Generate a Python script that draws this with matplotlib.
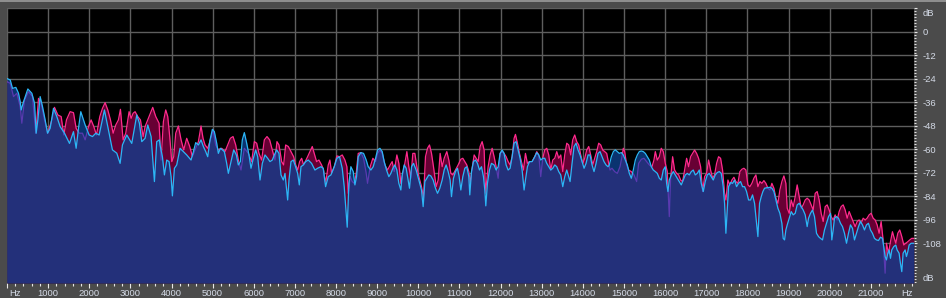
import numpy as np
import matplotlib
matplotlib.use("Agg")
import matplotlib.pyplot as plt
from matplotlib.ticker import MultipleLocator
from matplotlib.patches import Rectangle

plt.rcParams['font.family'] = ['Liberation Sans', 'DejaVu Sans']

# right channel (blue) spectrum, Hz / dB
blue_hz = [0, 78, 134, 215, 280, 321, 345, 402, 507, 604, 669, 709, 750, 806, 863, 928, 985,
           1049, 1130, 1211, 1292, 1398, 1519, 1616, 1681, 1738, 1794, 1900, 1997, 2078, 2159,
           2240, 2369, 2466, 2563, 2669, 2750, 2806, 2912, 3033, 3155, 3219, 3276, 3357, 3422,
           3503, 3584, 3640, 3705, 3721, 3778, 3827, 3883, 3940, 3989, 4021, 4070, 4126, 4207,
           4288, 4369, 4474, 4531, 4588, 4653, 4717, 4774, 4831, 4879, 4936, 4993, 5041, 5098,
           5138, 5187, 5236, 5284, 5341, 5381, 5446, 5511, 5576, 5624, 5673, 5721, 5770, 5827,
           5883, 5932, 5989, 6045, 6094, 6151, 6207, 6272, 6337, 6393, 6450, 6499, 6555, 6612,
           6661, 6717, 6758, 6798, 6823, 6855, 6904, 6960, 7001, 7066, 7106, 7147, 7203, 7260,
           7324, 7405, 7486, 7551, 7632, 7688, 7745, 7810, 7875, 7956, 8020, 8085, 8150, 8198,
           8247, 8271, 8312, 8360, 8417, 8458, 8498, 8539, 8603, 8668, 8733, 8781, 8846, 8903,
           8960, 9008, 9065, 9122, 9170, 9227, 9283, 9332, 9381, 9429, 9478, 9526, 9575, 9607,
           9656, 9704, 9753, 9785, 9834, 9883, 9947, 10012, 10077, 10117, 10158, 10206, 10255,
           10304, 10360, 10417, 10466, 10522, 10579, 10628, 10676, 10725, 10773, 10806, 10854,
           10903, 10951, 10990, 11033, 11081, 11130, 11178, 11227, 11251, 11292, 11340, 11389,
           11438, 11486, 11535, 11583, 11616, 11640, 11680, 11729, 11778, 11842, 11891, 11940,
           11988, 12037, 12085, 12134, 12183, 12231, 12280, 12328, 12377, 12425, 12474, 12523,
           12571, 12604, 12652, 12701, 12765, 12830, 12879, 12927, 12976, 13025, 13073, 13122,
           13170, 13219, 13268, 13316, 13365, 13413, 13462, 13511, 13559, 13608, 13656, 13689,
           13737, 13786, 13834, 13883, 13931, 13980, 14029, 14077, 14126, 14174, 14223, 14271,
           14320, 14369, 14417, 14466, 14514, 14563, 14612, 14643, 14692, 14741, 14789, 14838,
           14886, 14935, 14983, 15032, 15081, 15129, 15178, 15226, 15275, 15324, 15372, 15421,
           15469, 15518, 15566, 15615, 15664, 15712, 15761, 15809, 15858, 15906, 15955, 16004,
           16036, 16068, 16101, 16149, 16198, 16247, 16295, 16344, 16392, 16441, 16490, 16538,
           16587, 16635, 16684, 16732, 16781, 16830, 16878, 16927, 16975, 17024, 17072, 17121,
           17170, 17218, 17267, 17315, 17364, 17412, 17445, 17477, 17510, 17542, 17591, 17639,
           17688, 17736, 17785, 17834, 17882, 17931, 17979, 18028, 18076, 18125, 18174, 18214,
           18255, 18295, 18336, 18376, 18417, 18482, 18546, 18595, 18644, 18692, 18741, 18789,
           18838, 18870, 18903, 18935, 18968, 19016, 19065, 19113, 19162, 19210, 19259, 19308,
           19356, 19405, 19453, 19486, 19534, 19583, 19631, 19680, 19729, 19777, 19826, 19874,
           19923, 19972, 20020, 20052, 20085, 20117, 20166, 20214, 20263, 20312, 20360, 20409,
           20457, 20506, 20555, 20603, 20652, 20700, 20749, 20797, 20846, 20895, 20943, 20992,
           21040, 21089, 21137, 21186, 21235, 21283, 21316, 21348, 21380, 21413, 21445, 21478,
           21510, 21558, 21607, 21639, 21688, 21720, 21753, 21785, 21834, 21866, 21899, 21931,
           21980, 22044]
blue_db = [-23.8, -24.5, -28.8, -28.3, -31.3, -35.6, -39.8, -35.6, -29.1, -31.3, -36.4, -51.7,
           -44.9, -33.0, -38.1, -44.9, -51.7, -49.2, -39.0, -43.2, -48.3, -51.7, -56.9, -50.9,
           -59.4, -49.2, -40.7, -47.5, -52.6, -53.4, -51.7, -52.6, -39.8, -50.0, -60.2, -61.9,
           -67.1, -57.7, -52.6, -56.9, -42.4, -46.6, -56.0, -54.3, -47.5, -53.4, -76.4, -56.0,
           -55.1, -57.7, -63.7, -73.0, -65.4, -66.2, -73.9, -83.7, -69.6, -67.9, -59.4, -61.1,
           -62.8, -65.4, -61.1, -56.5, -57.7, -55.1, -58.5, -61.1, -63.7, -55.1, -49.7, -50.9,
           -56.8, -62.0, -59.4, -60.2, -61.1, -67.1, -72.2, -66.2, -60.2, -62.8, -67.9, -66.2,
           -55.1, -51.4, -56.8, -62.8, -69.6, -64.5, -60.2, -63.7, -75.6, -67.1, -62.8, -64.5,
           -66.2, -65.4, -62.8, -60.2, -62.0, -73.0, -75.6, -72.2, -80.7, -85.8, -75.6, -66.2,
           -65.4, -67.9, -72.2, -78.1, -68.8, -67.9, -66.2, -65.4, -67.1, -70.5, -69.6, -68.8,
           -69.6, -79.0, -73.9, -73.0, -68.8, -64.5, -63.7, -69.6, -79.0, -92.6, -99.7, -77.3,
           -68.8, -71.3, -78.1, -73.9, -63.7, -61.6, -62.0, -65.4, -68.8, -70.5, -68.8, -64.5,
           -60.3, -59.4, -61.1, -66.2, -70.5, -73.9, -72.2, -69.6, -67.9, -70.5, -77.3, -80.7,
           -73.0, -67.9, -69.6, -75.6, -79.8, -68.8, -67.1, -70.5, -75.6, -80.7, -89.2, -76.4,
           -74.7, -73.0, -73.5, -75.6, -79.8, -82.4, -79.8, -75.6, -70.5, -67.9, -71.3, -75.6,
           -84.1, -74.7, -71.3, -69.6, -73.5, -80.7, -73.9, -69.6, -68.8, -73.9, -83.2, -71.3,
           -66.2, -65.4, -67.1, -70.5, -68.8, -73.9, -80.7, -88.8, -77.3, -70.5, -67.1, -67.9,
           -70.5, -68.8, -62.0, -60.3, -62.0, -67.9, -70.5, -69.6, -63.7, -56.8, -56.0, -60.3,
           -64.5, -70.5, -80.7, -75.6, -68.8, -66.2, -66.2, -63.7, -61.6, -62.8, -65.4, -64.5,
           -64.5, -67.1, -68.8, -70.5, -69.6, -67.9, -68.8, -71.3, -73.0, -79.0, -73.9, -70.5,
           -73.9, -76.4, -67.1, -58.5, -56.8, -60.3, -62.8, -66.2, -69.6, -67.1, -62.8, -62.8,
           -67.9, -71.3, -67.1, -62.0, -61.1, -63.7, -66.2, -67.9, -68.8, -67.9, -63.7, -61.1,
           -60.2, -61.1, -62.0, -61.6, -62.8, -65.4, -67.9, -72.2, -74.7, -70.5, -65.4, -62.8,
           -61.1, -60.8, -61.1, -62.0, -63.7, -65.4, -68.8, -70.5, -71.3, -72.2, -74.7, -75.6,
           -70.5, -68.8, -77.3, -81.5, -75.6, -73.0, -71.3, -73.0, -74.7, -76.4, -78.1, -75.6,
           -73.0, -72.2, -73.0, -71.3, -70.5, -73.0, -72.2, -70.5, -77.3, -81.5, -76.4, -73.0,
           -72.2, -73.9, -75.6, -73.0, -71.8, -71.3, -72.2, -79.0, -87.5, -102.8, -90.9, -79.0,
           -76.9, -77.3, -75.6, -79.0, -77.3, -76.4, -79.0, -79.0, -81.5, -85.8, -85.8, -83.2,
           -87.5, -96.0, -104.5, -87.5, -84.1, -81.5, -79.8, -79.5, -79.3, -79.8, -81.5, -85.8,
           -90.0, -92.6, -97.7, -105.4, -106.2, -101.1, -98.5, -95.1, -91.7, -93.4, -92.6, -88.3,
           -87.5, -89.2, -90.9, -93.4, -99.4, -95.1, -92.6, -90.9, -94.3, -102.8, -104.5, -105.4,
           -106.2, -101.1, -97.7, -94.3, -92.6, -106.2, -101.1, -95.1, -94.3, -95.1, -97.7, -99.4,
           -102.8, -107.9, -102.8, -98.5, -100.3, -106.2, -102.8, -99.4, -96.8, -98.5, -101.1,
           -98.5, -97.7, -101.1, -102.8, -105.4, -106.2, -106.5, -104.8, -105.4, -109.6, -114.7,
           -116.4, -113.0, -111.3, -115.6, -111.3, -109.6, -108.8, -111.3, -113.0, -118.1, -122.4,
           -113.0, -111.3, -114.7, -112.2, -108.8, -107.9, -107.9]

# left channel (magenta) spectrum, Hz / dB
mag_hz = [0, 78, 159, 240, 321, 361, 426, 523, 620, 701, 766, 831, 912, 993, 1090, 1155, 1236,
          1317, 1381, 1446, 1535, 1616, 1681, 1754, 1835, 1900, 1981, 2045, 2110, 2175, 2256,
          2321, 2385, 2450, 2515, 2580, 2644, 2709, 2758, 2823, 2887, 2968, 3017, 3066, 3114,
          3179, 3244, 3309, 3357, 3422, 3487, 3543, 3616, 3697, 3746, 3802, 3859, 3908, 3956,
          4005, 4053, 4102, 4167, 4232, 4296, 4369, 4442, 4507, 4572, 4653, 4717, 4766, 4815,
          4879, 4944, 5009, 5074, 5138, 5219, 5300, 5365, 5430, 5495, 5560, 5624, 5689, 5770,
          5867, 5948, 6013, 6070, 6126, 6191, 6256, 6321, 6385, 6450, 6515, 6563, 6612, 6677,
          6725, 6774, 6839, 6904, 6968, 7017, 7066, 7114, 7163, 7211, 7308, 7364, 7421, 7470,
          7526, 7583, 7648, 7696, 7745, 7810, 7850, 7891, 7956, 8020, 8085, 8150, 8215, 8263,
          8296, 8344, 8393, 8441, 8490, 8539, 8603, 8668, 8733, 8765, 8830, 8895, 8960, 9008,
          9065, 9122, 9186, 9251, 9316, 9364, 9413, 9478, 9526, 9575, 9623, 9672, 9721, 9769,
          9818, 9866, 9915, 9964, 10012, 10077, 10125, 10174, 10223, 10271, 10320, 10368, 10433,
          10482, 10530, 10579, 10628, 10692, 10741, 10790, 10838, 10903, 10968, 11033, 11081,
          11130, 11178, 11227, 11259, 11308, 11357, 11405, 11454, 11502, 11551, 11600, 11632,
          11664, 11697, 11745, 11794, 11842, 11891, 11940, 11988, 12037, 12085, 12134, 12183,
          12231, 12280, 12328, 12361, 12409, 12458, 12506, 12555, 12604, 12652, 12701, 12765,
          12830, 12879, 12927, 12976, 13025, 13073, 13122, 13170, 13219, 13268, 13316, 13365,
          13413, 13462, 13511, 13559, 13608, 13656, 13705, 13753, 13802, 13850, 13899, 13948,
          13996, 14045, 14093, 14142, 14190, 14239, 14288, 14336, 14385, 14434, 14482, 14531,
          14579, 14660, 14708, 14773, 14838, 14903, 14951, 14983, 15016, 15064, 15113, 15178,
          15243, 15307, 15356, 15421, 15485, 15550, 15615, 15680, 15728, 15761, 15809, 15858,
          15906, 15955, 16004, 16052, 16101, 16133, 16182, 16230, 16279, 16328, 16376, 16425,
          16473, 16522, 16570, 16619, 16668, 16716, 16765, 16813, 16862, 16911, 16959, 17008,
          17056, 17105, 17153, 17202, 17251, 17299, 17348, 17396, 17445, 17477, 17526, 17574,
          17623, 17672, 17720, 17769, 17817, 17866, 17915, 17963, 18012, 18060, 18109, 18157,
          18206, 18255, 18304, 18352, 18401, 18449, 18498, 18546, 18595, 18644, 18692, 18741,
          18789, 18838, 18887, 18935, 18968, 19016, 19065, 19113, 19162, 19210, 19259, 19308,
          19356, 19405, 19453, 19502, 19550, 19599, 19648, 19696, 19745, 19793, 19842, 19891,
          19939, 19988, 20036, 20085, 20133, 20182, 20231, 20279, 20328, 20376, 20425, 20474,
          20522, 20571, 20619, 20668, 20716, 20765, 20814, 20862, 20911, 20959, 21008, 21057,
          21105, 21154, 21202, 21251, 21299, 21348, 21380, 21429, 21478, 21526, 21558, 21607,
          21656, 21704, 21753, 21802, 21850, 21899, 21947, 21996, 22044]
mag_db = [-25.4, -26.2, -33.0, -31.3, -38.1, -46.6, -34.7, -30.5, -33.0, -51.7, -33.9, -36.4,
          -44.9, -51.7, -44.9, -38.5, -42.4, -43.2, -52.6, -44.9, -40.7, -41.2, -49.2, -51.7,
          -51.7, -55.1, -48.3, -44.9, -48.3, -52.6, -43.2, -39.0, -36.1, -39.8, -44.9, -51.7,
          -47.5, -44.9, -39.5, -55.1, -51.7, -40.7, -44.1, -41.5, -40.7, -43.2, -44.9, -53.4,
          -48.3, -44.9, -41.5, -38.5, -43.2, -46.6, -65.4, -45.8, -39.8, -43.2, -53.4, -66.2,
          -63.7, -51.7, -48.0, -55.1, -60.2, -54.3, -58.5, -63.7, -60.2, -56.0, -48.0, -54.3,
          -57.7, -59.4, -55.1, -50.0, -57.7, -60.2, -59.4, -61.1, -57.7, -54.3, -53.4, -57.7,
          -65.4, -70.5, -59.4, -62.0, -66.2, -56.0, -56.8, -62.0, -65.4, -55.1, -53.4, -55.1,
          -60.2, -65.4, -56.0, -57.7, -66.2, -67.9, -57.7, -58.5, -61.1, -63.7, -67.9, -70.5,
          -66.2, -64.5, -67.9, -63.7, -61.1, -58.5, -62.0, -66.2, -65.4, -67.9, -70.5, -77.3,
          -67.9, -65.4, -72.2, -68.8, -63.3, -63.7, -62.8, -65.4, -68.8, -82.4, -73.9, -76.4,
          -77.3, -72.2, -62.0, -61.6, -64.5, -72.2, -77.3, -68.8, -64.5, -66.2, -62.0, -60.3,
          -62.0, -67.9, -70.5, -67.9, -66.2, -71.3, -62.8, -67.1, -77.3, -72.2, -67.1, -61.1,
          -68.8, -74.7, -62.0, -62.0, -68.8, -73.9, -79.0, -84.9, -63.7, -59.4, -57.7, -62.0,
          -68.8, -79.0, -75.6, -62.0, -68.8, -64.5, -61.1, -65.4, -72.2, -73.0, -70.5, -67.9,
          -65.0, -64.5, -66.2, -67.9, -71.3, -77.3, -69.6, -62.8, -64.5, -66.2, -58.5, -56.0,
          -60.3, -82.4, -75.6, -68.8, -62.8, -59.4, -63.7, -68.8, -74.7, -62.0, -61.1, -62.0,
          -63.7, -66.2, -67.9, -63.7, -54.3, -52.3, -56.8, -62.0, -66.2, -70.5, -62.0, -67.1,
          -66.2, -66.2, -63.7, -61.1, -62.8, -73.9, -64.5, -60.3, -59.4, -62.8, -70.5, -65.4,
          -64.5, -61.1, -64.5, -62.8, -71.3, -62.8, -56.8, -57.7, -62.8, -55.1, -52.6, -56.0,
          -57.7, -62.8, -67.1, -64.5, -60.3, -58.5, -62.8, -67.9, -64.5, -61.1, -56.8, -57.7,
          -60.3, -61.1, -62.0, -70.5, -69.6, -71.3, -72.2, -68.8, -63.7, -59.4, -61.1, -67.9,
          -70.5, -71.3, -73.0, -76.4, -67.1, -65.0, -64.5, -66.2, -67.9, -68.8, -65.4, -61.1,
          -65.4, -63.7, -59.4, -61.1, -67.1, -71.3, -94.3, -74.7, -63.7, -70.5, -72.2, -73.0,
          -75.6, -76.4, -70.5, -64.5, -68.8, -63.7, -62.0, -60.3, -62.0, -64.5, -68.8, -81.5,
          -73.9, -72.2, -65.4, -70.5, -74.7, -73.0, -67.1, -63.7, -64.5, -70.5, -82.4, -85.8,
          -75.6, -78.1, -75.6, -74.2, -76.4, -77.3, -71.3, -70.1, -69.6, -70.5, -78.1, -79.0,
          -77.3, -74.7, -73.0, -79.0, -76.4, -77.3, -75.9, -77.3, -79.8, -80.7, -77.3, -79.8,
          -84.9, -87.5, -80.7, -76.4, -73.5, -77.3, -90.0, -92.6, -85.8, -89.2, -84.1, -78.1,
          -84.1, -90.0, -88.3, -85.8, -84.9, -85.8, -88.3, -90.9, -82.4, -81.5, -85.8, -92.6,
          -96.8, -89.2, -88.3, -90.9, -94.3, -96.0, -93.4, -96.0, -91.7, -89.2, -88.3, -90.9,
          -95.1, -91.7, -94.3, -96.8, -99.4, -96.8, -96.0, -97.7, -95.1, -96.0, -95.1, -93.4,
          -92.6, -95.1, -96.0, -98.5, -102.8, -96.8, -106.2, -123.2, -107.9, -113.0, -107.1,
          -102.0, -104.5, -107.9, -102.8, -101.1, -104.5, -108.8, -107.9, -107.1, -106.2,
          -105.4, -105.4]

x_ticks = list(range(0, 22000, 1000))
x_labels = [''] + [str(v) for v in x_ticks[1:]]
y_ticks = list(range(12, -121, -12))
y_labels = ['', '0', '-12', '-24', '-36', '-48', '-60', '-72', '-84', '-96', '-108', '']

PANEL = '#4b4b4b'
TEXT = '#d4dae6'
CRIMSON = '#680034'
PINK = '#ff2a8c'
DARK_BLUE = '#0a3370'
NAVY = '#23307a'
PURPLE = '#5a3ab0'
CYAN = '#2cb6f6'

W, H = 946, 298
fig = plt.figure(figsize=(W / 100, H / 100), dpi=100)
fig.patch.set_facecolor(PANEL)
ax = fig.add_axes([7 / W, 15 / H, 907 / W, 275 / H])
ax.set_facecolor('black')
y_lo, y_hi = -128.2, 12.25
ax.set_xlim(0, 22050)
ax.set_ylim(y_lo, y_hi)

# fills start at the bottom edge so the clipped navy layer stays inside the plot
ax.fill_between(mag_hz, y_lo, mag_db, color=CRIMSON, lw=0, zorder=1)
ax.plot(mag_hz, mag_db, color=PINK, lw=0.9, zorder=2)
bpoly = ax.fill_between(blue_hz, y_lo, blue_db, color=DARK_BLUE, lw=0, zorder=3)
clip = bpoly.get_paths()[0]
under = ax.fill_between(mag_hz, y_lo, mag_db, color=NAVY, lw=0, zorder=4)
under.set_clip_path(clip, ax.transData)
pl, = ax.plot(mag_hz, mag_db, color=PURPLE, lw=0.9, zorder=5)
pl.set_clip_path(clip, ax.transData)
ax.plot(blue_hz, blue_db, color=CYAN, lw=0.9, zorder=6)

ax.set_axisbelow(True)
ax.set_xticks(x_ticks)
ax.set_xticklabels(x_labels)
ax.xaxis.set_minor_locator(MultipleLocator(200))
ax.yaxis.tick_right()
ax.set_yticks(y_ticks)
ax.set_yticklabels(y_labels, ha='left')
ax.yaxis.set_minor_locator(MultipleLocator(1.5))
ax.grid(which='major', color='#5e5e5e', lw=1)
for s in ax.spines.values():
    s.set_visible(False)

ax.tick_params(axis='x', which='major', length=3.6, width=0.8, color='#e8e8e8',
               pad=0.5, labelsize=6.8, labelcolor=TEXT)
ax.tick_params(axis='x', which='minor', length=2, width=0.8, color='#e8e8e8')
ax.tick_params(axis='y', which='major', length=2.5, width=0.8, color='#e8e8e8',
               pad=3.6, labelsize=6.8, labelcolor=TEXT)
ax.tick_params(axis='y', which='minor', length=1.2, width=0.7, color='#e8e8e8')

fig.text(15 / W, 1 - 293.5 / H, 'Hz', color=TEXT, fontsize=6.8, ha='center', va='center')
fig.text(907 / W, 1 - 293.5 / H, 'Hz', color=TEXT, fontsize=6.8, ha='center', va='center')
fig.text(922.5 / W, 1 - 13.7 / H, 'dB', color=TEXT, fontsize=6.8, ha='left', va='center')
fig.text(922.5 / W, 1 - 278.7 / H, 'dB', color=TEXT, fontsize=6.8, ha='left', va='center')

fig.add_artist(Rectangle((0, 1 - 2 / H), 1, 2 / H, transform=fig.transFigure,
                         color='#8e8e8e', lw=0))

fig.savefig('out.png', dpi=100, facecolor=fig.get_facecolor())
